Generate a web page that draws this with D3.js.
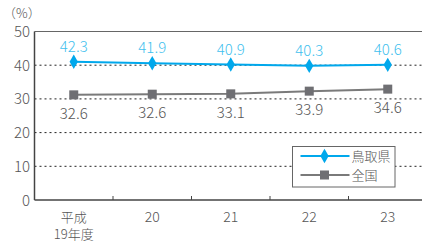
<!DOCTYPE html>
<html>
<head>
<meta charset="utf-8">
<script src="https://cdn.jsdelivr.net/npm/d3@7"></script>
<style>
  body { margin: 0; background: #fff; }
  text { font-family: "Noto Sans CJK JP", "Noto Sans", sans-serif; font-weight: 300; }
</style>
</head>
<body>
<svg id="chart" width="422" height="243"></svg>
<script>
// categories (fiscal years)
var years = ['平成\n19年度', '20', '21', '22', '23'];
// plotted positions as drawn in the picture
var tottori = [41.0, 40.6, 40.2, 39.8, 40.1];
var national = [31.2, 31.4, 31.5, 32.3, 32.9];
// labels printed next to the markers
var tottoriLabels = ['42.3', '41.9', '40.9', '40.3', '40.6'];
var nationalLabels = ['32.6', '32.6', '33.1', '33.9', '34.6'];
var yTicks = [0, 10, 20, 30, 40, 50];
var seriesNames = ['鳥取県', '全国'];

var blue = '#00a8ec', blueText = '#3fbfee', grey = '#7a7a7a';

var svg = d3.select('#chart');
var plotLeft = 34.5, plotTop = 31.5, plotBottom = 200;

var x = d3.scaleBand().domain(d3.range(years.length)).range([plotLeft, plotLeft + 78.5 * 5]);
var y = d3.scaleLinear().domain([0, 50]).range([plotBottom, plotTop]);

// dotted grid lines
svg.selectAll('line.grid')
  .data(yTicks.filter(function(d){ return d > 0 && d < 50; }))
  .enter().append('line')
  .attr('x1', plotLeft).attr('x2', 422)
  .attr('y1', function(d){ return y(d); }).attr('y2', function(d){ return y(d); })
  .attr('stroke', '#222').attr('stroke-width', 1)
  .attr('stroke-dasharray', '2,3');

// top line at 50
svg.append('line')
  .attr('x1', plotLeft).attr('x2', 422)
  .attr('y1', y(50)).attr('y2', y(50))
  .attr('stroke', '#666').attr('stroke-width', 1);

// y tick labels
svg.selectAll('text.ytick')
  .data(yTicks).enter().append('text')
  .attr('x', 30).attr('y', function(d){ return y(d) + 5.5; })
  .attr('text-anchor', 'end')
  .attr('font-size', 15).attr('fill', '#555')
  .text(function(d){ return d; });

svg.append('text')
  .attr('x', 3).attr('y', 18)
  .attr('font-size', 13).attr('fill', '#555')
  .text('（%）');

// axes lines
svg.append('line')
  .attr('x1', plotLeft).attr('x2', plotLeft).attr('y1', plotTop).attr('y2', plotBottom)
  .attr('stroke', '#444').attr('stroke-width', 1.5);
svg.append('line')
  .attr('x1', plotLeft).attr('x2', 422).attr('y1', plotBottom).attr('y2', plotBottom)
  .attr('stroke', '#444').attr('stroke-width', 1.5);

// x ticks at band boundaries, pointing inward
svg.selectAll('line.xtick')
  .data(d3.range(1, years.length)).enter().append('line')
  .attr('x1', function(i){ return x(i); }).attr('x2', function(i){ return x(i); })
  .attr('y1', plotBottom - 4).attr('y2', plotBottom)
  .attr('stroke', '#444').attr('stroke-width', 1);

// x labels
years.forEach(function(label, i){
  var lines = label.split('\n');
  var t = svg.append('text')
    .attr('x', x(i) + x.bandwidth() / 2)
    .attr('y', 222)
    .attr('text-anchor', 'middle')
    .attr('font-size', 14).attr('fill', '#555');
  lines.forEach(function(l, k){
    t.append('tspan').attr('x', x(i) + x.bandwidth() / 2).attr('dy', k ? 17 : 0)
      .attr('font-size', lines.length > 1 ? 13 : 14).text(l);
  });
});

var cx = function(d, i){ return x(i) + x.bandwidth() / 2; };
var line = d3.line().x(function(d, i){ return cx(d, i); }).y(function(d){ return y(d); });

// national series
svg.append('path').datum(national)
  .attr('d', line).attr('fill', 'none')
  .attr('stroke', grey).attr('stroke-width', 2);
svg.selectAll('rect.nat').data(national).enter().append('rect')
  .attr('x', function(d, i){ return cx(d, i) - 4.5; })
  .attr('y', function(d){ return y(d) - 4.5; })
  .attr('width', 9).attr('height', 9).attr('fill', '#6f6f73');
svg.selectAll('text.nat').data(nationalLabels).enter().append('text')
  .attr('x', function(d, i){ return cx(d, i); })
  .attr('y', function(d, i){ return y(national[i]) + 24; })
  .attr('text-anchor', 'middle').attr('font-size', 15).attr('fill', '#555')
  .text(function(d){ return d; });

// tottori series
var diamond = d3.symbol().type(d3.symbolDiamond).size(60);
svg.append('path').datum(tottori)
  .attr('d', line).attr('fill', 'none')
  .attr('stroke', blue).attr('stroke-width', 2);
svg.selectAll('path.tot').data(tottori).enter().append('path')
  .attr('d', diamond)
  .attr('transform', function(d, i){ return 'translate(' + cx(d, i) + ',' + y(d) + ')'; })
  .attr('fill', blue);
svg.selectAll('text.tot').data(tottoriLabels).enter().append('text')
  .attr('x', function(d, i){ return cx(d, i); })
  .attr('y', function(d, i){ return y(tottori[i]) - 10; })
  .attr('text-anchor', 'middle').attr('font-size', 15).attr('fill', blueText)
  .text(function(d){ return d; });

// legend
var lg = svg.append('g').attr('transform', 'translate(292.5,146.5)');
lg.append('rect').attr('width', 102.5).attr('height', 40.5)
  .attr('fill', '#fff').attr('stroke', '#666').attr('stroke-width', 1);
[[blue, 'diamond'], [grey, 'square']].forEach(function(s, k){
  var ly = 9.5 + k * 19;
  lg.append('line').attr('x1', 8).attr('x2', 57).attr('y1', ly).attr('y2', ly)
    .attr('stroke', s[0]).attr('stroke-width', 2);
  if (s[1] == 'diamond') {
    lg.append('path').attr('d', diamond).attr('transform', 'translate(32,' + ly + ')').attr('fill', blue);
  } else {
    lg.append('rect').attr('x', 27.5).attr('y', ly - 4.5).attr('width', 9).attr('height', 9).attr('fill', '#6f6f73');
  }
  lg.append('text').attr('x', 59).attr('y', ly + 5)
    .attr('font-size', 13).attr('fill', '#555').text(seriesNames[k]);
});
</script>
</body>
</html>
